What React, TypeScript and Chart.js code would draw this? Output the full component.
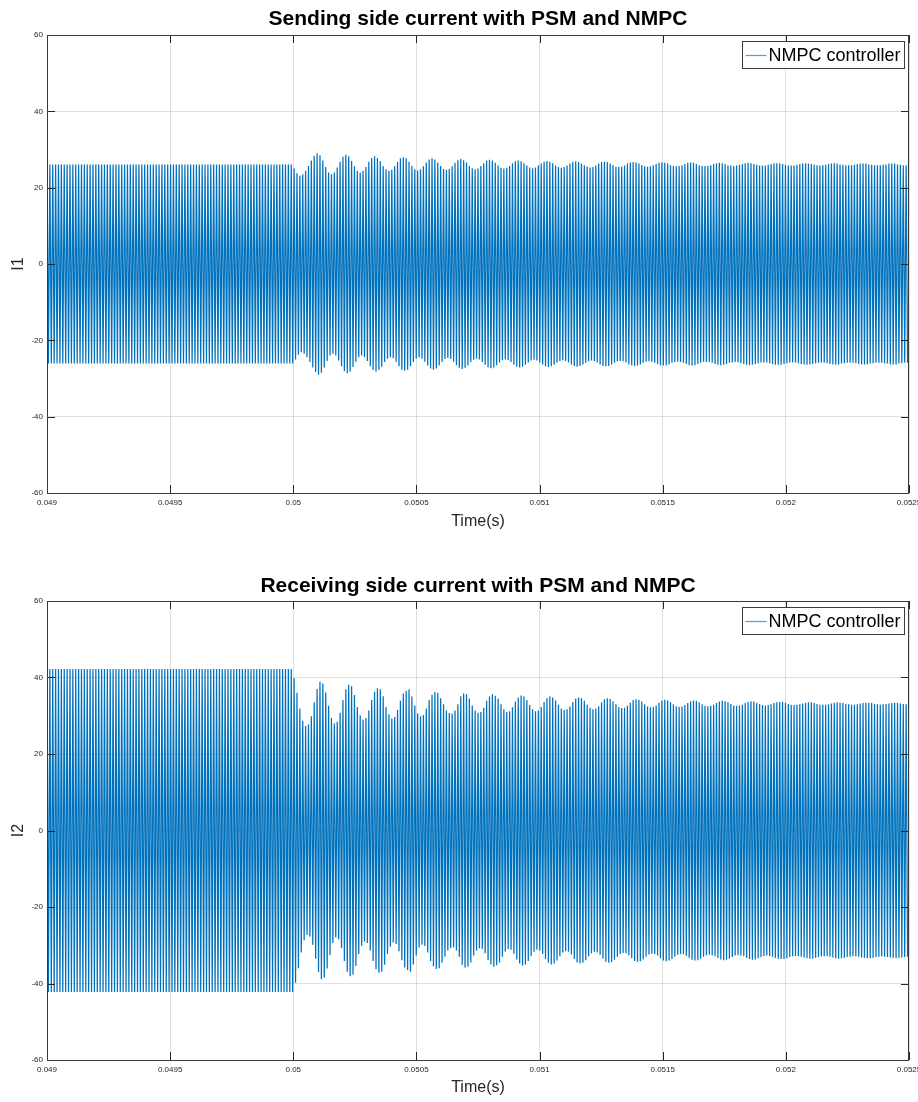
import React, { useEffect, useRef } from 'react';
import { Chart, registerables } from 'chart.js';

Chart.register(...registerables);

const FONT = '"Liberation Sans", Arial, Helvetica, sans-serif';
const LINE_COLOR = '#0072BD';
const AXIS_COLOR = '#262626';

// Axis ticks
const xTicks = [0.049, 0.0495, 0.05, 0.0505, 0.051, 0.0515, 0.052, 0.0525];
const xTickLabels = ['0.049', '0.0495', '0.05', '0.0505', '0.051', '0.0515', '0.052', '0.0525'];
const yTicks = [-60, -40, -20, 0, 20, 40, 60];
const tStart = 0.049;
const tEnd = 0.0525;

// Carrier cycles before the disturbance at t = 0.05 s (constant amplitude)
const preCycles = 86;
const i1PreAmplitude = 26.1;
const i2PreAmplitude = 42.2;

// Peak amplitude of each carrier cycle after t = 0.05 s (read from the envelope)
const i1PostAmplitude = [
  25.0, 23.8, 23.1, 23.5, 24.4, 25.7, 27.1, 28.3,
  29.0, 28.5, 27.1, 25.4, 24.0, 23.5, 24.0, 25.3, 26.8, 28.1,
  28.6, 28.2, 27.0, 25.6, 24.4, 24.0, 24.4, 25.4, 26.8, 27.8,
  28.2, 27.8, 26.9, 25.7, 24.8, 24.4, 24.7, 25.6, 26.8, 27.7,
  28.0, 27.7, 26.8, 25.7, 24.8, 24.5, 24.8, 25.6, 26.6, 27.4,
  27.7, 27.4, 26.6, 25.7, 24.9, 24.6, 24.9, 25.6, 26.5, 27.2,
  27.5, 27.2, 26.6, 25.7, 25.1, 24.8, 25.0, 25.7, 26.4, 27.1,
  27.3, 27.1, 26.5, 25.8, 25.2, 25.0, 25.2, 25.7, 26.4, 26.9,
  27.1, 26.9, 26.4, 25.8, 25.3, 25.1, 25.3, 25.8, 26.3, 26.8,
  27.0, 26.8, 26.4, 25.8, 25.4, 25.2, 25.4, 25.8, 26.3, 26.7,
  26.9, 26.7, 26.3, 25.9, 25.5, 25.3, 25.4, 25.8, 26.3, 26.7,
  26.8, 26.7, 26.3, 25.9, 25.5, 25.4, 25.5, 25.8, 26.3, 26.6,
  26.7, 26.6, 26.3, 25.9, 25.6, 25.5, 25.6, 25.9, 26.2, 26.5,
  26.6, 26.5, 26.3, 25.9, 25.7, 25.6, 25.7, 25.9, 26.2, 26.5,
  26.6, 26.5, 26.2, 25.9, 25.7, 25.7, 25.7, 25.9, 26.2, 26.4,
  26.5, 26.4, 26.2, 25.9, 25.8, 25.7, 25.8, 26.0, 26.2, 26.4,
  26.5, 26.4, 26.2, 26.0, 25.8, 25.8, 25.8, 26.0, 26.2, 26.4,
  26.4, 26.4, 26.2, 26.0, 25.8, 25.8, 25.8, 26.0, 26.2, 26.3,
  26.4, 26.3, 26.2, 26.0, 25.9, 25.8, 25.9, 26.0, 26.2, 26.3,
  26.4, 26.3, 26.1, 26.0, 25.9, 25.9, 25.9, 26.0, 26.2, 26.3,
  26.3, 26.3, 26.1, 26.0, 25.9, 25.9, 25.9, 26.0, 26.1, 26.3,
  26.3, 26.3, 26.1, 26.0, 25.9, 25.9,
];

const i2PostAmplitude = [
  39.8, 36.0, 31.9, 28.7, 27.3, 27.7, 29.9, 33.5, 37.0, 38.9,
  38.4, 36.1, 32.6, 29.4, 28.0, 28.4, 30.8, 34.1, 36.9, 38.1,
  37.7, 35.4, 32.3, 30.1, 29.0, 29.4, 31.4, 34.1, 36.3, 37.2,
  36.9, 35.1, 32.3, 30.4, 29.3, 29.7, 31.6, 33.9, 35.8, 36.5,
  36.9, 35.0, 32.7, 30.6, 29.9, 30.2, 31.9, 34.1, 35.5, 36.2,
  36.0, 34.6, 33.0, 31.4, 30.7, 30.5, 31.4, 33.0, 35.1, 35.8,
  35.6, 34.5, 32.7, 31.4, 30.8, 31.0, 32.1, 33.9, 35.0, 35.6,
  35.2, 34.5,
  33.0, 31.7, 31.0, 31.2, 32.2, 33.7, 34.8, 35.3, 35.0, 34.1,
  32.8, 31.7, 31.2, 31.4, 32.3, 33.6, 34.6, 35.0, 34.8, 34.0,
  32.9, 31.9, 31.5, 31.7, 32.4, 33.6, 34.5, 34.8, 34.6, 33.9,
  32.9, 32.1, 31.7, 31.9, 32.5, 33.5, 34.3, 34.6, 34.4, 33.8,
  33.0, 32.3, 32.0, 32.1, 32.6, 33.4, 34.1, 34.3, 34.2, 33.7,
  33.0, 32.4, 32.2, 32.3, 32.7, 33.4, 34.0, 34.2, 34.0, 33.6,
  33.0, 32.5, 32.3, 32.4, 32.8, 33.3, 33.8, 34.0, 33.9, 33.5,
  33.0, 32.6, 32.5, 32.6, 32.9, 33.3, 33.7, 33.9, 33.8, 33.5,
  33.1, 32.7, 32.6, 32.7, 32.9, 33.3, 33.6, 33.8, 33.7, 33.4,
  33.1, 32.8, 32.7, 32.8, 33.0, 33.3, 33.5, 33.6, 33.6, 33.4,
  33.1, 32.9, 32.8, 32.9, 33.0, 33.2, 33.4, 33.5, 33.5, 33.3,
  33.1, 32.9, 32.9, 32.9, 33.0, 33.2, 33.4, 33.5, 33.4, 33.3,
  33.1, 33.0, 32.9, 32.9, 33.0, 33.2, 33.3, 33.4, 33.4, 33.3,
  33.1, 33.0, 32.9, 33.0, 33.1, 33.2, 33.3, 33.4, 33.3, 33.2,
  33.1, 33.0,
];

const legendLabel = 'NMPC controller';

function buildPoints(pre: number, post: number[]) {
  const amps = [...new Array(preCycles).fill(pre), ...post];
  const period = (tEnd - tStart) / amps.length;
  const pts: { x: number; y: number }[] = [];
  amps.forEach((a, k) => {
    pts.push({ x: tStart + k * period, y: a });
    pts.push({ x: tStart + (k + 0.5) * period, y: -a });
  });
  return pts;
}

const framePlugin = {
  id: 'matlabFrame',
  afterDraw(chart: any) {
    const { ctx, chartArea: a, scales } = chart;
    ctx.save();
    // inward tick marks
    ctx.strokeStyle = AXIS_COLOR;
    ctx.lineWidth = 1;
    ctx.beginPath();
    for (const v of xTicks) {
      const x = Math.round(scales.x.getPixelForValue(v)) + 0.5;
      ctx.moveTo(x, a.bottom);
      ctx.lineTo(x, a.bottom - 8);
      ctx.moveTo(x, a.top);
      ctx.lineTo(x, a.top + 8);
    }
    for (const v of yTicks) {
      const y = Math.round(scales.y.getPixelForValue(v)) + 0.5;
      ctx.moveTo(a.left, y);
      ctx.lineTo(a.left + 8, y);
      ctx.moveTo(a.right, y);
      ctx.lineTo(a.right - 8, y);
    }
    ctx.stroke();
    // box
    ctx.strokeStyle = '#3a3a3a';
    ctx.strokeRect(a.left + 0.5, a.top + 0.5, a.right - a.left - 1, a.bottom - a.top);

    // legend
    const label = chart.data.datasets[0].label;
    ctx.font = `18px ${FONT}`;
    const tw = ctx.measureText(label).width;
    const boxW = 3 + 21 + 2 + tw + 4;
    const boxH = 27;
    const bx = Math.round(a.right - 5 - boxW) + 0.5;
    const by = a.top + 6.5;
    ctx.fillStyle = '#ffffff';
    ctx.fillRect(bx, by, boxW, boxH);
    ctx.strokeStyle = '#3a3a3a';
    ctx.strokeRect(bx, by, boxW, boxH);
    const cy = by + boxH / 2;
    ctx.strokeStyle = '#4a9fdc';
    ctx.lineWidth = 1.2;
    ctx.beginPath();
    ctx.moveTo(bx + 3, Math.round(cy) + 0.5);
    ctx.lineTo(bx + 24, Math.round(cy) + 0.5);
    ctx.stroke();
    ctx.fillStyle = '#000000';
    ctx.textAlign = 'left';
    ctx.textBaseline = 'middle';
    ctx.fillText(label, bx + 26, cy + 1);
    ctx.restore();
  },
};

type PlotCfg = {
  title: string;
  yLabel: string;
  pre: number;
  post: number[];
  padTop: number;
  titlePadTop: number;
  xAxisHeight: number;
  xTitlePadBottom: number;
};

const TITLE_SIZE = 21;

function makeChart(canvas: HTMLCanvasElement, cfg: PlotCfg) {
  const tickFont = { family: FONT, size: 8 };
  const titleLH = TITLE_SIZE * 1.2;
  return new Chart(canvas, {
    type: 'line',
    data: {
      datasets: [
        {
          label: legendLabel,
          data: buildPoints(cfg.pre, cfg.post),
          borderColor: LINE_COLOR,
          borderWidth: 1.25,
          pointRadius: 0,
          tension: 0,
          fill: false,
        },
      ],
    },
    options: {
      animation: false,
      responsive: false,
      devicePixelRatio: 1,
      parsing: false,
      normalized: true,
      layout: { padding: { top: 0, left: 0, right: 918 - 909, bottom: 0 } },
      plugins: {
        legend: { display: false },
        tooltip: { enabled: false },
        title: {
          display: true,
          text: cfg.title,
          fullSize: false,
          color: '#000000',
          font: { family: FONT, size: TITLE_SIZE, weight: 'bold' },
          padding: { top: cfg.titlePadTop, bottom: cfg.padTop - cfg.titlePadTop - titleLH },
        },
      },
      scales: {
        x: {
          type: 'linear',
          min: tStart,
          max: tEnd,
          z: 1,
          border: { display: false },
          grid: { color: 'rgba(38,38,38,0.15)', lineWidth: 1, drawTicks: false },
          afterBuildTicks: (s: any) => {
            s.ticks = xTicks.map((v) => ({ value: v }));
          },
          afterFit: (s: any) => {
            s.height = cfg.xAxisHeight;
            s.paddingLeft = 0;
            s.paddingRight = 0;
          },
          ticks: {
            autoSkip: false,
            maxRotation: 0,
            padding: 5,
            color: AXIS_COLOR,
            font: tickFont,
            callback: (_v: any, i: number) => xTickLabels[i],
          },
          title: {
            display: true,
            text: 'Time(s)',
            color: AXIS_COLOR,
            font: { family: FONT, size: 16 },
            padding: { top: 0, bottom: cfg.xTitlePadBottom },
          },
        },
        y: {
          type: 'linear',
          min: -60,
          max: 60,
          z: 1,
          border: { display: false },
          grid: { color: 'rgba(38,38,38,0.15)', lineWidth: 1, drawTicks: false },
          afterBuildTicks: (s: any) => {
            s.ticks = yTicks.map((v) => ({ value: v }));
          },
          afterFit: (s: any) => {
            s.width = 47;
            s.paddingTop = 0;
            s.paddingBottom = 0;
          },
          ticks: {
            autoSkip: false,
            padding: 4,
            color: AXIS_COLOR,
            font: tickFont,
            callback: (v: any) => String(v),
          },
          title: {
            display: true,
            text: cfg.yLabel,
            color: AXIS_COLOR,
            font: { family: FONT, size: 16 },
            padding: { top: 9, bottom: 0 },
          },
        },
      },
    } as any,
    plugins: [framePlugin],
  });
}

function Plot({ cfg, top }: { cfg: PlotCfg; top: number }) {
  const ref = useRef<HTMLCanvasElement>(null);
  useEffect(() => {
    if (!ref.current) return;
    const chart = makeChart(ref.current, cfg);
    return () => chart.destroy();
  }, []);
  return (
    <canvas
      ref={ref}
      width={918}
      height={551}
      style={{ position: 'absolute', left: 0, top, width: 918, height: 551, display: 'block' }}
    />
  );
}

const topPlot: PlotCfg = {
  title: 'Sending side current with PSM and NMPC',
  yLabel: 'I1',
  pre: i1PreAmplitude,
  post: i1PostAmplitude,
  padTop: 35,
  titlePadTop: 6.5,
  xAxisHeight: 58,
  xTitlePadBottom: 20,
};

const bottomPlot: PlotCfg = {
  title: 'Receiving side current with PSM and NMPC',
  yLabel: 'I2',
  pre: i2PreAmplitude,
  post: i2PostAmplitude,
  padTop: 50,
  titlePadTop: 23,
  xAxisHeight: 42,
  xTitlePadBottom: 5,
};

export default function App() {
  return (
    <div style={{ position: 'absolute', left: 0, top: 0, width: 918, height: 1102, background: '#fff' }}>
      <Plot cfg={topPlot} top={0} />
      <Plot cfg={bottomPlot} top={551} />
    </div>
  );
}
